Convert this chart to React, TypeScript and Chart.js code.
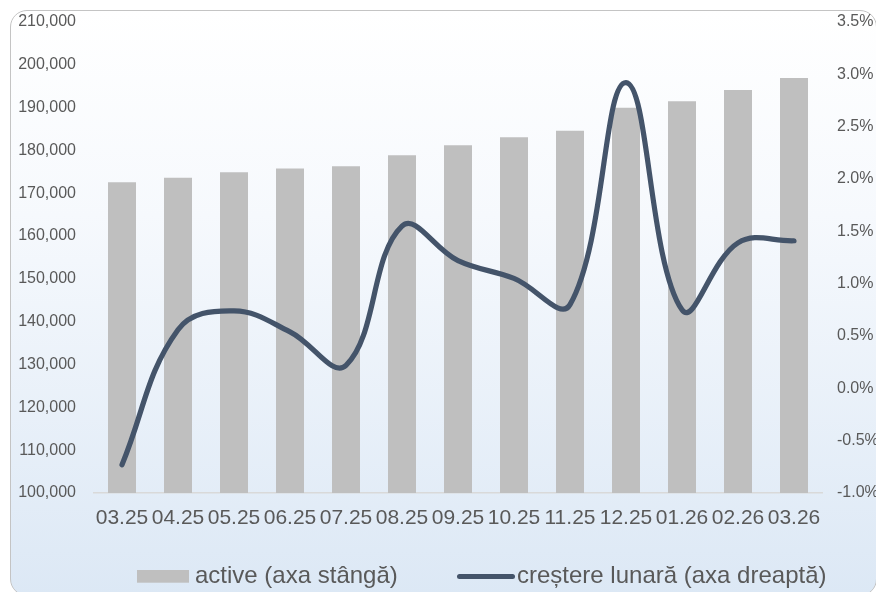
import React, { useEffect, useRef } from "react";
import { Chart, registerables } from "chart.js";

Chart.register(...registerables);

const categories = ["03.25", "04.25", "05.25", "06.25", "07.25", "08.25", "09.25", "10.25", "11.25", "12.25", "01.26", "02.26", "03.26"];
const activeValues = [172600, 173600, 174900, 175800, 176300, 178900, 181200, 183100, 184600, 190000, 191500, 194100, 196900];
const monthlyGrowth = [-0.73, 0.56, 0.74, 0.54, 0.22, 1.55, 1.22, 1.05, 0.8, 2.92, 0.75, 1.39, 1.41];
const seriesLabels = ["active (axa stângă)", "creștere lunară (axa dreaptă)"];

const FONT = "'Liberation Sans', Arial, sans-serif";
const TEXT = "#595959";
const BAR = "#bfbfbf";
const LINE = "#44546a";

const legendPlugin = {
  id: "excelLegend",
  afterDraw(chart: any) {
    const ctx = chart.ctx;
    const ds = chart.data.datasets;
    ctx.save();
    ctx.font = `24px ${FONT}`;
    ctx.fillStyle = TEXT;
    ctx.textBaseline = "alphabetic";
    ctx.textAlign = "left";
    const baseY = 582.7;
    let x = 137;
    ctx.fillStyle = ds[0].backgroundColor;
    ctx.fillRect(x, 570, 52, 12.7);
    ctx.fillStyle = TEXT;
    ctx.fillText(ds[0].label, x + 58, baseY);
    x = 459.5;
    ctx.strokeStyle = ds[1].borderColor;
    ctx.lineWidth = 5;
    ctx.lineCap = "round";
    ctx.beginPath();
    ctx.moveTo(x, 576.5);
    ctx.lineTo(x + 53, 576.5);
    ctx.stroke();
    ctx.fillStyle = TEXT;
    ctx.fillText(ds[1].label, 517, baseY);
    ctx.restore();
  },
};

const fixY = (w: number) => (s: any) => {
  s.width = w;
  s.paddingTop = 0;
  s.paddingBottom = 0;
};

export default function App() {
  const ref = useRef<HTMLCanvasElement | null>(null);

  useEffect(() => {
    if (!ref.current) return;
    const chart = new Chart(ref.current, {
      type: "bar",
      data: {
        labels: categories,
        datasets: [
          {
            type: "bar",
            label: seriesLabels[0],
            data: activeValues,
            backgroundColor: BAR,
            borderWidth: 0,
            yAxisID: "y",
            categoryPercentage: 1,
            barPercentage: 0.5,
            order: 1,
          },
          {
            type: "line",
            label: seriesLabels[1],
            data: monthlyGrowth,
            borderColor: LINE,
            backgroundColor: LINE,
            borderWidth: 5.2,
            borderCapStyle: "round",
            borderJoinStyle: "round",
            pointRadius: 0,
            pointHoverRadius: 0,
            tension: 0.4,
            fill: false,
            yAxisID: "y1",
            order: 0,
          },
        ],
      } as any,
      options: {
        responsive: false,
        animation: false,
        layout: { padding: { top: 22, left: 0, right: 0, bottom: 0 } },
        plugins: {
          legend: { display: false },
          tooltip: { enabled: false },
        },
        scales: {
          x: {
            type: "category",
            offset: true,
            grid: { display: false, drawTicks: false },
            border: { display: true, color: "#d9d9d9", width: 1.5 },
            ticks: {
              color: TEXT,
              font: { family: FONT, size: 21 },
              padding: 13,
              maxRotation: 0,
              autoSkip: false,
            },
            afterFit: (s: any) => {
              s.height = 99;
              s.paddingLeft = 0;
              s.paddingRight = 0;
            },
          },
          y: {
            type: "linear",
            position: "left",
            min: 100000,
            max: 210000,
            grid: { display: false, drawTicks: false },
            border: { display: false },
            ticks: {
              stepSize: 10000,
              color: TEXT,
              font: { family: FONT, size: 16 },
              padding: 18,
              callback: (v: any) => Number(v).toLocaleString("en-US"),
            },
            afterFit: fixY(94),
          },
          y1: {
            type: "linear",
            position: "right",
            min: -1,
            max: 3.5,
            grid: { display: false, drawTicks: false },
            border: { display: false },
            ticks: {
              stepSize: 0.5,
              color: TEXT,
              font: { family: FONT, size: 16 },
              padding: 15,
              callback: (v: any) => Number(v).toFixed(1) + "%",
            },
            afterFit: fixY(54),
          },
        },
      } as any,
      plugins: [legendPlugin],
    });
    return () => chart.destroy();
  }, []);

  return (
    <div style={{ position: "fixed", left: 0, top: 0, width: 876, height: 592, overflow: "hidden" }}>
      <div
        style={{
          position: "absolute",
          left: 10,
          top: 10,
          width: 867,
          height: 586,
          boxSizing: "border-box",
          border: "1.5px solid #c4c4c4",
          borderRadius: 17,
          background: "linear-gradient(to bottom, #ffffff 0%, #f6f9fd 35%, #dce8f5 100%)",
        }}
      />
      <canvas
        ref={ref}
        width={876}
        height={592}
        style={{ position: "absolute", left: 0, top: 0, width: 876, height: 592, display: "block" }}
      />
    </div>
  );
}
